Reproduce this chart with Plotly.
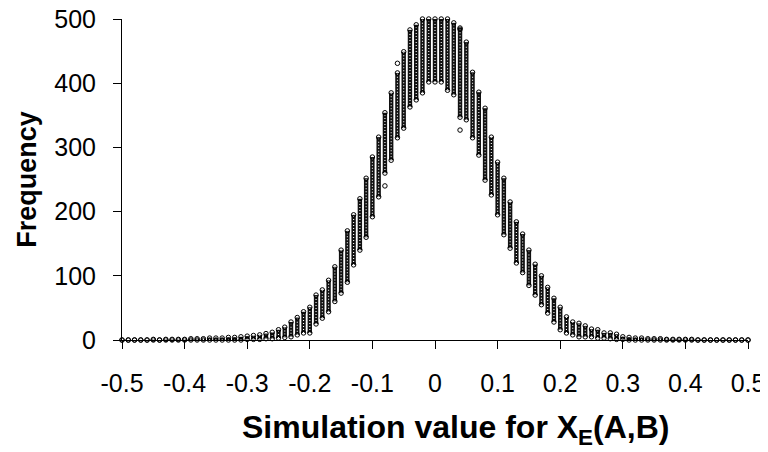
import plotly.graph_objects as go

# bin centres of the simulated values
x_bins = [round(-0.5 + 0.01 * i, 2) for i in range(101)]

# lowest frequency observed in each bin (over all simulation runs)
freq_low = [
    0, 0, 0, 0, 0, 0, 0, 0, 0, 0,
    0, 0, 0, 0, 0, 0, 0, 0, 0, 0,
    1, 1, 1, 2, 2, 3, 4, 5, 8, 11,
    11, 25, 34, 44, 60, 73, 90, 117, 140, 160,
    192, 223, 260, 280, 315, 330, 363, 374, 385, 402,
    402,
    402, 389, 382, 347, 343, 315, 288, 249, 226, 195,
    164, 143, 120, 105, 85, 70, 55, 42, 28, 16,
    11, 8, 5, 5, 5, 3, 3, 2, 1, 1,
    0, 0, 0, 0, 0, 0, 0, 0, 0, 0,
    0, 0, 0, 0, 0, 0, 0, 0, 0, 0,
]

# highest frequency observed in each bin
freq_high = [
    0, 0, 0, 0, 0, 1, 0, 1, 1, 1,
    1, 2, 2, 2, 3, 3, 3, 4, 4, 5,
    6, 7, 8, 10, 12, 16, 20, 28, 35, 44,
    51, 70, 78, 93, 114, 140, 170, 195, 220, 252,
    285, 316, 354, 385, 416, 449, 483, 491, 500, 500,
    500,
    500, 500, 494, 486, 464, 417, 386, 361, 316, 277,
    252, 215, 184, 165, 140, 118, 100, 82, 65, 51,
    36, 28, 26, 22, 17, 16, 11, 11, 9, 5,
    4, 3, 3, 2, 2, 2, 1, 1, 1, 1,
    1, 0, 0, 0, 0, 0, 0, 0, 0, 0,
]

# isolated runs lying apart from their column
outlier_x = [-0.08, -0.06, 0.04, 0.04]
outlier_y = [240, 431, 327, 484]

x_ticks = [-0.5, -0.4, -0.3, -0.2, -0.1, 0, 0.1, 0.2, 0.3, 0.4, 0.5]
x_tick_text = ["-0.5", "-0.4", "-0.3", "-0.2", "-0.1", "0", "0.1", "0.2", "0.3", "0.4", "0.5"]
y_ticks = [0, 100, 200, 300, 400, 500]

seg_x, seg_y = [], []
for xv, lo, hi in zip(x_bins, freq_low, freq_high):
    seg_x += [xv, xv, None]
    seg_y += [lo, hi, None]

end_x = x_bins + x_bins + outlier_x
end_y = freq_low + freq_high + outlier_y

fig = go.Figure()
fig.add_trace(go.Scatter(
    x=seg_x, y=seg_y, mode="lines",
    line=dict(color="#111111", width=4.4),
    hoverinfo="skip", showlegend=False, cliponaxis=False,
))
fig.add_trace(go.Scatter(
    x=seg_x, y=seg_y, mode="lines",
    line=dict(color="#ffffff", width=1.1, dash="1px,2px"),
    hoverinfo="skip", showlegend=False, cliponaxis=False,
))
fig.add_trace(go.Scatter(
    x=end_x, y=end_y, mode="markers",
    marker=dict(symbol="circle-open", size=4.5, color="#000000",
                line=dict(width=1, color="#000000")),
    showlegend=False, cliponaxis=False,
))

fig.update_layout(
    width=768, height=452,
    margin=dict(l=114, r=28, t=11, b=120, autoexpand=False),
    paper_bgcolor="white", plot_bgcolor="white",
    font=dict(family="Liberation Sans, Arial, sans-serif", color="black"),
    xaxis=dict(
        range=[-0.5, 0.5], tickmode="array",
        tickvals=x_ticks, ticktext=x_tick_text,
        showgrid=False, zeroline=False, showline=True, linecolor="black", linewidth=1,
        ticks="outside", ticklen=8, tickcolor="black", tickwidth=1,
        tickfont=dict(size=25), ticklabelstandoff=13, automargin=False,
        ticklabeloverflow="allow",
    ),
    yaxis=dict(
        range=[0, 500], tickmode="array",
        tickvals=y_ticks,
        showgrid=False, zeroline=False, showline=True, linecolor="black", linewidth=1,
        ticks="outside", ticklen=8, tickcolor="black", tickwidth=1,
        tickfont=dict(size=25), ticklabelstandoff=12, automargin=False,
        ticklabeloverflow="allow",
    ),
    annotations=[
        dict(text="<b>Simulation value for X<sub>E</sub>(A,B)</b>",
             xref="paper", yref="paper", x=0.5335, y=-0.28,
             xanchor="center", yanchor="middle", showarrow=False,
             font=dict(size=32)),
        dict(text="<b>Frequency</b>", textangle=-90,
             xref="paper", yref="paper", x=-0.153, y=0.5,
             xanchor="center", yanchor="middle", showarrow=False,
             font=dict(size=27)),
    ],
)

fig.write_html("out.html")
